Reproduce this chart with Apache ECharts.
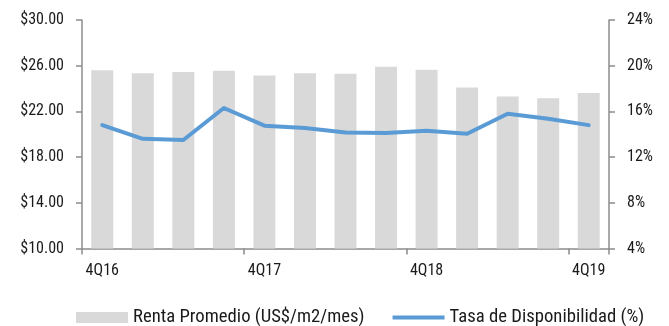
<!DOCTYPE html>
<html>
<head>
<meta charset="utf-8">
<script src="https://cdn.jsdelivr.net/npm/echarts@6/dist/echarts.min.js"></script>
<style>
  html, body { margin: 0; padding: 0; background: #ffffff; }
  #chart { width: 669px; height: 326px; }
</style>
</head>
<body>
<div id="chart"></div>
<script>
// Quarterly periods, 4Q16 through 4Q19
const quarters = ['4Q16', '1Q17', '2Q17', '3Q17', '4Q17', '1Q18', '2Q18', '3Q18',
                  '4Q18', '1Q19', '2Q19', '3Q19', '4Q19'];
// Average rent, US$/m2/month
const rentaPromedio = [25.6, 25.35, 25.45, 25.55, 25.15, 25.35, 25.3, 25.9,
                       25.65, 24.1, 23.3, 23.15, 23.6];
// Availability rate, %
const tasaDisponibilidad = [14.8, 13.6, 13.5, 16.3, 14.75, 14.55, 14.15, 14.1,
                            14.3, 14.05, 15.8, 15.35, 14.8];
const seriesNames = ['Renta Promedio (US$/m2/mes)', 'Tasa de Disponibilidad (%)'];

const FONT = '"Roboto Condensed", "Liberation Sans Narrow", "Roboto", sans-serif';
const TEXT = '#1a1a1a';
const AXIS = '#8c8c8c';
const SIZE = 16;
const LEGEND_SIZE = 18.7;

const chart = echarts.init(document.getElementById('chart'), null, { renderer: 'canvas' });
chart.setOption({
  animation: false,
  backgroundColor: '#ffffff',
  textStyle: { fontFamily: FONT, color: TEXT },
  grid: { left: 82, right: 60, top: 20, bottom: 77.5, containLabel: false },
  legend: {
    left: 76,
    top: 308,
    width: 620,
    padding: 0,
    orient: 'horizontal',
    itemGap: 28,
    itemWidth: 52,
    itemHeight: 11,
    itemTextGap: 6,
    symbolKeepAspect: true,
    textStyle: { fontFamily: FONT, fontSize: LEGEND_SIZE, color: TEXT },
    data: [
      { name: seriesNames[0], icon: 'rect' },
      { name: seriesNames[1], icon: 'path://M0,0 L52,0 L52,4 L0,4 Z' }
    ]
  },
  xAxis: {
    type: 'category',
    data: quarters,
    boundaryGap: true,
    axisLine: { lineStyle: { color: AXIS, width: 1.5 } },
    axisTick: { show: true, interval: 3, length: 6, lineStyle: { color: AXIS, width: 1.5 } },
    axisLabel: { interval: 3, margin: 14, fontFamily: FONT, fontSize: SIZE, color: TEXT }
  },
  yAxis: [
    {
      type: 'value',
      min: 10, max: 30, interval: 4,
      splitLine: { show: false },
      axisLine: { show: true, lineStyle: { color: AXIS, width: 1.5 } },
      axisTick: { show: true, length: 6, lineStyle: { color: AXIS, width: 1.5 } },
      axisLabel: {
        margin: 18, fontFamily: FONT, fontSize: SIZE, color: TEXT,
        formatter: v => '$' + v.toFixed(2)
      }
    },
    {
      type: 'value',
      min: 4, max: 24, interval: 4,
      splitLine: { show: false },
      axisLine: { show: true, lineStyle: { color: AXIS, width: 1.5 } },
      axisTick: { show: true, length: 6, lineStyle: { color: AXIS, width: 1.5 } },
      axisLabel: {
        margin: 18, fontFamily: FONT, fontSize: SIZE, color: TEXT,
        formatter: v => v + '%'
      }
    }
  ],
  series: [
    {
      name: seriesNames[0],
      type: 'bar',
      yAxisIndex: 0,
      data: rentaPromedio,
      barWidth: 22,
      itemStyle: { color: '#d9d9d9' }
    },
    {
      name: seriesNames[1],
      type: 'line',
      yAxisIndex: 1,
      data: tasaDisponibilidad,
      symbol: 'none',
      lineStyle: { color: '#5b9bd5', width: 4, cap: 'round', join: 'round' },
      itemStyle: { color: '#5b9bd5' }
    }
  ]
});
</script>
</body>
</html>
